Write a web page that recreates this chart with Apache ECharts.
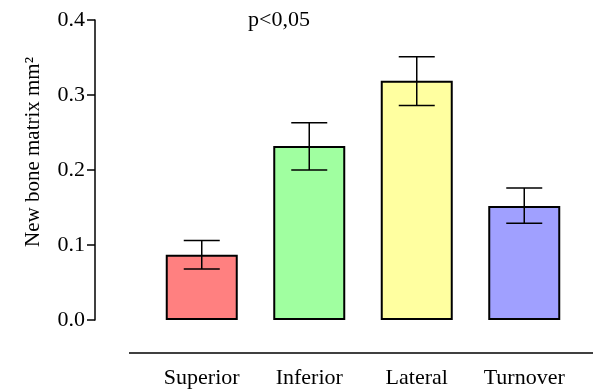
<!DOCTYPE html>
<html>
<head>
<meta charset="utf-8">
<script src="https://cdn.jsdelivr.net/npm/echarts@6/dist/echarts.min.js"></script>
<style>
  html, body { margin: 0; padding: 0; background: #fff; }
  #chart { width: 593px; height: 389px; }
</style>
</head>
<body>
<div id="chart"></div>
<script>
const categories = ['Superior', 'Inferior', 'Lateral', 'Turnover']
const means = [0.087, 0.232, 0.319, 0.152]
const errLow = [0.068, 0.200, 0.286, 0.129]
const errHigh = [0.106, 0.263, 0.351, 0.176]
const barColors = ['#ff8080', '#a0ffa0', '#ffffa0', '#a0a0ff']
const yTicks = [0, 0.1, 0.2, 0.3, 0.4]

const font = "'Liberation Serif', 'Times New Roman', serif"

const chart = echarts.init(document.getElementById('chart'))

const option = {
  animation: false,
  title: {
    text: 'p<0,05',
    left: 274,
    top: 4,
    textAlign: 'center',
    textStyle: { fontFamily: font, fontSize: 22, fontWeight: 'normal', color: '#000' }
  },
  grid: { left: 148, right: 15, top: 20, bottom: 69 },
  xAxis: {
    type: 'category',
    data: categories,
    axisLine: { show: false },
    axisTick: { show: false },
    axisLabel: { margin: 47, fontFamily: font, fontSize: 22, color: '#000' }
  },
  yAxis: {
    type: 'value',
    min: yTicks[0],
    max: yTicks[yTicks.length - 1],
    interval: 0.1,
    offset: 53,
    name: 'New bone matrix mm\u00b2',
    nameLocation: 'middle',
    nameGap: 51,
    nameRotate: 90,
    nameTextStyle: { fontFamily: font, fontSize: 21, color: '#000', padding: [0, 0, 0, 36] },
    axisLine: { show: true, lineStyle: { color: '#000', width: 1.5 } },
    axisTick: { show: true, length: 8, lineStyle: { color: '#000', width: 1.5 } },
    axisLabel: {
      margin: 10,
      fontFamily: font,
      fontSize: 22,
      color: '#000',
      formatter: v => v.toFixed(1)
    },
    splitLine: { show: false }
  },
  graphic: [{
    type: 'line',
    shape: { x1: 129, y1: 353, x2: 593, y2: 353 },
    style: { stroke: '#000', lineWidth: 1.5 }
  }],
  series: [
    {
      type: 'bar',
      barWidth: 72,
      data: means.map((v, i) => ({
        value: v,
        itemStyle: { color: barColors[i], borderColor: '#000', borderWidth: 2 }
      }))
    },
    {
      type: 'custom',
      z: 10,
      data: categories.map((c, i) => [i, errLow[i], errHigh[i]]),
      renderItem: (params, api) => {
        const lo = api.coord([api.value(0), api.value(1)])
        const hi = api.coord([api.value(0), api.value(2)])
        const half = 18
        const style = { stroke: '#000', lineWidth: 1.5 }
        return {
          type: 'group',
          children: [
            { type: 'line', shape: { x1: hi[0], y1: hi[1], x2: lo[0], y2: lo[1] }, style },
            { type: 'line', shape: { x1: hi[0] - half, y1: hi[1], x2: hi[0] + half, y2: hi[1] }, style },
            { type: 'line', shape: { x1: lo[0] - half, y1: lo[1], x2: lo[0] + half, y2: lo[1] }, style }
          ]
        }
      }
    }
  ]
}

chart.setOption(option)
</script>
</body>
</html>
